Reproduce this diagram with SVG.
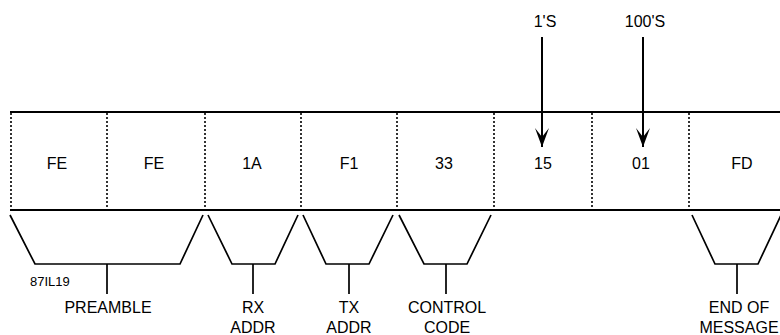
<svg xmlns="http://www.w3.org/2000/svg" width="780" height="335" viewBox="0 0 780 335">
<style>
.t{font-family:"Liberation Sans",Arial,sans-serif;font-size:16px;fill:#000;text-anchor:middle}
.s{font-size:13px;text-anchor:start}
.rule{stroke:#000;stroke-width:2.2;fill:none}
.dot{stroke:#000;stroke-width:1.6;stroke-dasharray:2,2;fill:none}
.br{stroke:#000;stroke-width:1.7;fill:none}
.ar{stroke:#000;stroke-width:2;fill:none}
</style>
<defs>
<marker id="ah" viewBox="0 0 20 14" refX="19" refY="7" markerWidth="20" markerHeight="14" markerUnits="userSpaceOnUse" orient="auto">
<path d="M0,0 L19,7 L0,14 L9,7 Z" fill="#000"/>
</marker>
</defs>
<g id="frame">
<line class="rule" x1="10" y1="112" x2="780" y2="112"/>
<line class="rule" x1="10" y1="210" x2="780" y2="210"/>
</g>
<g id="cells">
<line class="dot" x1="11" y1="113" x2="11" y2="210"/>
<line class="dot" x1="107" y1="113" x2="107" y2="210"/>
<line class="dot" x1="205" y1="113" x2="205" y2="210"/>
<line class="dot" x1="301" y1="113" x2="301" y2="210"/>
<line class="dot" x1="397" y1="113" x2="397" y2="210"/>
<line class="dot" x1="494" y1="113" x2="494" y2="210"/>
<line class="dot" x1="592" y1="113" x2="592" y2="210"/>
<line class="dot" x1="689" y1="113" x2="689" y2="210"/>
</g>
<g id="cell-fe1"><text class="t" x="57" y="168.5">FE</text></g>
<g id="cell-fe2"><text class="t" x="154" y="168.5">FE</text></g>
<g id="cell-1a"><text class="t" x="252" y="168.5">1A</text></g>
<g id="cell-f1"><text class="t" x="349" y="168.5">F1</text></g>
<g id="cell-33"><text class="t" x="444" y="168.5">33</text></g>
<g id="cell-15"><text class="t" x="543" y="168.5">15</text></g>
<g id="cell-01"><text class="t" x="641" y="168.5">01</text></g>
<g id="cell-fd"><text class="t" x="742" y="168.5">FD</text></g>
<g id="label-1s"><text class="t" x="545" y="26.5">1'S</text></g>
<g id="label-100s"><text class="t" x="645" y="26.5">100'S</text></g>
<g id="connectors">
<line class="ar" x1="542" y1="37" x2="542" y2="147" marker-end="url(#ah)"/>
<line class="ar" x1="643" y1="37" x2="643" y2="147" marker-end="url(#ah)"/>
<path class="br" d="M10,215 L35,264 L180,264 L203,215 M107,264 L107,294"/>
<path class="br" d="M208,215 L232,264 L275,264 L298,215 M253,264 L253,294"/>
<path class="br" d="M303,215 L326,264 L369,264 L393,215 M349,264 L349,294"/>
<path class="br" d="M399,215 L424,264 L467,264 L491,215 M446,264 L446,294"/>
<path class="br" d="M692,215 L715,264 L758,264 L782,213 M737,264 L737,294"/>
</g>
<g id="label-preamble"><text class="t" x="108" y="313">PREAMBLE</text></g>
<g id="label-rx"><text class="t" x="253" y="313">RX</text><text class="t" x="253" y="333">ADDR</text></g>
<g id="label-tx"><text class="t" x="349" y="313">TX</text><text class="t" x="349" y="333">ADDR</text></g>
<g id="label-control"><text class="t" x="447" y="313">CONTROL</text><text class="t" x="447" y="333">CODE</text></g>
<g id="label-eom"><text class="t" x="739" y="313">END OF</text><text class="t" x="739" y="333">MESSAGE</text></g>
<g id="label-fig"><text class="t s" x="30" y="286">87IL19</text></g>
</svg>
